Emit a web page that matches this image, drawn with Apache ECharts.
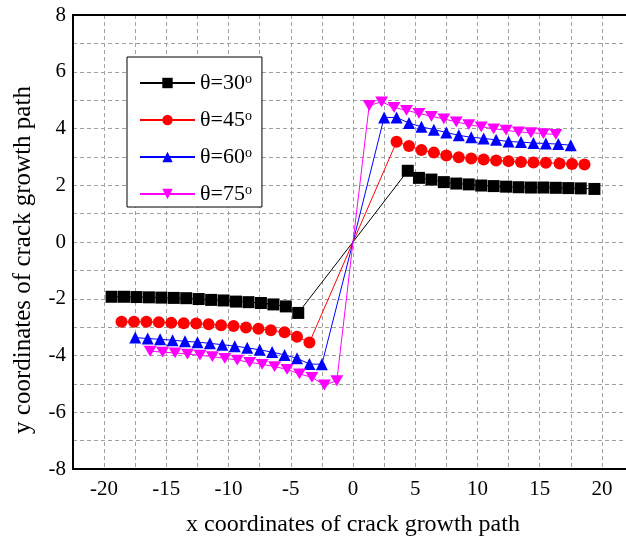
<!DOCTYPE html>
<html lang="en">
<head>
    <meta charset="UTF-8">
    <title>crack growth path</title>
    <script src="https://cdn.jsdelivr.net/npm/echarts@6/dist/echarts.min.js"></script>
    <style>
        * { margin: 0; padding: 0 }
        html, body { width: 626px; height: 545px; background: #fff; }
    </style>
</head>
<body>
    <div id="main" style="width:626px;height:545px"></div>
    <script>
        var names = ['θ=30°', 'θ=45°', 'θ=60°', 'θ=75°'];
        var colors = ['#000000', '#ff0000', '#0000ff', '#ff00ff'];
        var symbols = ['rect', 'circle', 'triangle', 'path://M0,0 L10,0 L5,9 Z'];

        // theta = 30
        var x30 = [-19.4, -18.4, -17.4, -16.4, -15.4, -14.4, -13.4, -12.4, -11.4, -10.4, -9.4, -8.4, -7.4, -6.4, -5.4, -4.4,
            0, 4.4, 5.3, 6.3, 7.3, 8.3, 9.3, 10.3, 11.3, 12.3, 13.3, 14.3, 15.3, 16.3, 17.3, 18.3, 19.4];
        var y30 = [-1.93, -1.93, -1.94, -1.95, -1.96, -1.97, -1.98, -2.01, -2.04, -2.06, -2.1, -2.12, -2.15, -2.2, -2.27, -2.5,
            0, 2.51, 2.26, 2.2, 2.11, 2.06, 2.03, 1.99, 1.97, 1.95, 1.93, 1.92, 1.92, 1.91, 1.9, 1.89, 1.87];
        // theta = 45
        var x45 = [-18.6, -17.6, -16.6, -15.6, -14.6, -13.6, -12.6, -11.6, -10.6, -9.6, -8.6, -7.6, -6.6, -5.5, -4.5, -3.5,
            0, 3.5, 4.5, 5.5, 6.5, 7.5, 8.5, 9.5, 10.5, 11.5, 12.5, 13.5, 14.5, 15.5, 16.6, 17.6, 18.6];
        var y45 = [-2.81, -2.81, -2.81, -2.83, -2.85, -2.86, -2.87, -2.9, -2.93, -2.96, -3.01, -3.06, -3.11, -3.18, -3.34, -3.54,
            0, 3.53, 3.38, 3.24, 3.15, 3.05, 2.99, 2.94, 2.91, 2.87, 2.85, 2.82, 2.8, 2.79, 2.77, 2.75, 2.73];
        // theta = 60
        var x60 = [-17.5, -16.5, -15.5, -14.5, -13.5, -12.5, -11.5, -10.5, -9.5, -8.5, -7.5, -6.5, -5.5, -4.5, -3.5, -2.5,
            0, 2.5, 3.5, 4.5, 5.5, 6.5, 7.5, 8.5, 9.5, 10.5, 11.5, 12.5, 13.5, 14.5, 15.5, 16.5, 17.5];
        var y60 = [-3.37, -3.4, -3.43, -3.46, -3.5, -3.53, -3.57, -3.62, -3.67, -3.73, -3.8, -3.88, -3.98, -4.1, -4.3, -4.31,
            0, 4.39, 4.39, 4.19, 4.06, 3.96, 3.86, 3.76, 3.69, 3.65, 3.6, 3.54, 3.52, 3.49, 3.47, 3.45, 3.41];
        // theta = 75
        var x75 = [-16.3, -15.3, -14.3, -13.3, -12.3, -11.3, -10.3, -9.3, -8.3, -7.3, -6.3, -5.3, -4.3, -3.3, -2.3, -1.3,
            0, 1.3, 2.3, 3.3, 4.3, 5.3, 6.3, 7.3, 8.3, 9.3, 10.3, 11.3, 12.3, 13.3, 14.3, 15.3, 16.3];
        var y75 = [-3.85, -3.88, -3.91, -3.95, -3.99, -4.04, -4.1, -4.16, -4.24, -4.31, -4.39, -4.49, -4.65, -4.77, -5.04, -4.89,
            0, 4.81, 4.94, 4.74, 4.64, 4.53, 4.43, 4.34, 4.23, 4.14, 4.06, 3.99, 3.94, 3.88, 3.85, 3.82, 3.79];

        var xs = [x30, x45, x60, x75];
        var ys = [y30, y45, y60, y75];
        var font = 'Liberation Serif';

        function build(i) {
            return xs[i].map(function (x, k) {
                var p = { value: [x, ys[i][k]] };
                if (x === 0) p.symbolSize = 0;
                return p;
            });
        }

        var series = names.map(function (n, i) {
            return {
                name: n,
                type: 'line',
                data: build(i),
                symbol: symbols[i],
                symbolSize: i === 3 ? [13, 12] : 12,
                symbolKeepAspect: true,
                lineStyle: { color: colors[i], width: 1 },
                itemStyle: { color: colors[i] },
                emphasis: { disabled: true }
            };
        });

        var grid = '#a0a0a0';

        echarts.init(document.getElementById('main')).setOption({
            animation: false,
            textStyle: { fontFamily: font },
            grid: {
                left: 73, top: 15, right: -7, bottom: 76,
                outerBoundsMode: 'none',
                containLabel: false
            },
            legend: {
                orient: 'vertical',
                left: 127, top: 57,
                padding: [15, 10, 2, 12],
                itemWidth: 55, itemHeight: 13,
                itemGap: 15,
                backgroundColor: '#fff',
                borderColor: '#000', borderWidth: 1,
                formatter: function (n) {
                    return '{a|' + n.replace('°', '') + '}{s|o}';
                },
                textStyle: {
                    rich: {
                        a: { fontFamily: font, fontSize: 22, lineHeight: 22, color: '#000' },
                        s: { fontFamily: font, fontSize: 14, lineHeight: 22, verticalAlign: 'top', color: '#000' }
                    }
                }
            },
            xAxis: [{
                type: 'value',
                min: -22.5, max: 22.5, interval: 2.5,
                name: 'x coordinates of crack growth path',
                nameLocation: 'middle', nameGap: 44,
                nameTextStyle: { fontFamily: font, fontSize: 24, color: '#000' },
                axisLine: { onZero: false, lineStyle: { color: '#000', width: 2 } },
                axisTick: { show: false },
                axisLabel: {
                    fontFamily: font, fontSize: 21, color: '#000', margin: 10,
                    formatter: function (v) { return v % 5 === 0 ? String(v) : ''; }
                },
                splitLine: { lineStyle: { color: grid, type: [4, 3], width: 1 } }
            }, {
                type: 'value', position: 'top',
                min: -22.5, max: 22.5,
                axisLine: { onZero: false, lineStyle: { color: '#000', width: 2 } },
                axisTick: { show: false }, axisLabel: { show: false }, splitLine: { show: false }
            }],
            yAxis: {
                type: 'value',
                min: -8, max: 8, interval: 1,
                name: 'y coordinates of crack growth path',
                nameLocation: 'middle', nameGap: 37,
                nameTextStyle: { fontFamily: font, fontSize: 25, color: '#000', padding: [0, 36, 0, 0] },
                axisLine: { onZero: false, lineStyle: { color: '#000', width: 2 } },
                axisTick: { show: false },
                axisLabel: {
                    fontFamily: font, fontSize: 21, color: '#000', margin: 7,
                    formatter: function (v) { return v % 2 === 0 ? String(v) : ''; }
                },
                splitLine: { lineStyle: { color: grid, type: [4, 3], width: 1 } }
            },
            series: series
        });
    </script>
</body>
</html>
